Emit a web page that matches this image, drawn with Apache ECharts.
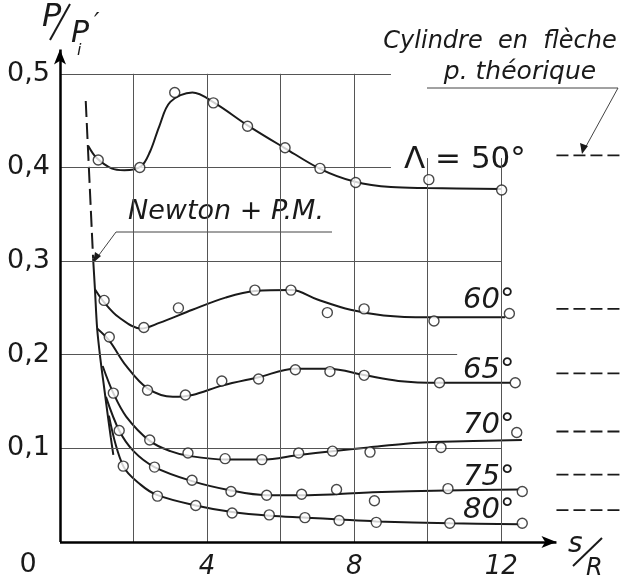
<!DOCTYPE html>
<html>
<head>
<meta charset="utf-8">
<script src="https://cdn.jsdelivr.net/npm/echarts@6/dist/echarts.min.js"></script>
<style>
  html, body { margin: 0; padding: 0; background: #fff; }
  #main { width: 633px; height: 585px; }
</style>
</head>
<body>
<div id="main"></div>
<script>
// grid ticks
const xTicks = [2, 4, 6, 8, 10, 12];
const yTicks = [0.1, 0.2, 0.3, 0.4, 0.5];
const xLabels = [4, 8, 12];

// measured points (open circles)
const pts50 = [[1.04,0.408],[2.17,0.400],[3.12,0.480],[4.17,0.469],[5.10,0.444],[6.12,0.421],[7.07,0.399],[8.04,0.384],[10.03,0.387],[12.01,0.376]];
const pts60 = [[1.20,0.258],[2.28,0.229],[3.22,0.250],[5.30,0.269],[6.28,0.269],[7.27,0.245],[8.27,0.249],[10.17,0.236],[12.22,0.244]];
const pts65 = [[1.34,0.219],[2.38,0.162],[3.41,0.157],[4.40,0.172],[5.40,0.174],[6.40,0.184],[7.34,0.182],[8.27,0.178],[10.32,0.170],[12.38,0.170]];
const pts70 = [[1.45,0.159],[2.44,0.109],[3.48,0.095],[4.49,0.089],[5.49,0.088],[6.49,0.095],[7.41,0.097],[8.43,0.096],[10.36,0.101],[12.42,0.117]];
const pts75 = [[1.61,0.119],[2.57,0.080],[3.59,0.066],[4.65,0.054],[5.62,0.050],[6.57,0.051],[7.52,0.056],[8.55,0.044],[10.55,0.057],[12.57,0.054]];
const pts80 = [[1.72,0.081],[2.65,0.049],[3.69,0.039],[4.68,0.031],[5.69,0.029],[6.66,0.026],[7.59,0.023],[8.60,0.021],[10.60,0.020],[12.57,0.020]];

// faired curves
const fit50 = [[0.77,0.423],[1.0,0.410],[1.4,0.399],[1.75,0.397],[2.2,0.401],[2.45,0.417],[2.7,0.444],[3.0,0.470],[3.6,0.480],[4.2,0.469],[5.1,0.445],[6.1,0.421],[7.1,0.398],[8.0,0.385],[9.0,0.379],[10.0,0.378],[12.0,0.377]];
const fit60 = [[0.95,0.270],[1.2,0.256],[1.6,0.240],[2.2,0.228],[2.7,0.234],[3.6,0.248],[4.5,0.261],[5.3,0.268],[6.3,0.269],[7.0,0.259],[7.9,0.248],[8.8,0.242],[10.0,0.240],[12.1,0.240]];
const fit65 = [[1.01,0.228],[1.34,0.215],[1.8,0.188],[2.38,0.164],[3.07,0.155],[3.6,0.157],[4.4,0.167],[5.4,0.176],[6.4,0.185],[7.3,0.185],[8.3,0.178],[9.2,0.172],[10.3,0.170],[12.24,0.170]];
const fit70 = [[1.16,0.188],[1.45,0.159],[1.8,0.134],[2.44,0.108],[3.0,0.097],[3.5,0.092],[4.5,0.088],[5.5,0.088],[6.5,0.093],[7.4,0.097],[8.4,0.101],[9.4,0.105],[10.4,0.107],[12.56,0.109]];
const fit75 = [[1.25,0.155],[1.61,0.119],[2.0,0.097],[2.57,0.080],[3.59,0.065],[4.65,0.055],[5.6,0.050],[6.6,0.050],[7.5,0.051],[8.5,0.053],[10.5,0.055],[12.5,0.056]];
const fit80 = [[1.33,0.135],[1.72,0.081],[2.2,0.061],[2.65,0.050],[3.69,0.039],[4.68,0.032],[5.7,0.028],[6.7,0.026],[7.6,0.024],[8.6,0.022],[10.6,0.020],[12.5,0.019]];

// Newton + P.M. envelope
const newtonDash = [[0.70,0.471],[0.90,0.303]];
const newtonSolid = [[0.90,0.303],[0.95,0.270],[1.01,0.228],[1.10,0.195],[1.2,0.165],[1.3,0.135],[1.38,0.112],[1.45,0.093]];

// cylindre en flèche, p. théorique
const theory = [0.413, 0.249, 0.180, 0.118, 0.072, 0.034];
const theoryX = [13.5, 15.3];

const ink = '#1a1a1a';
const font = 'DejaVu Sans';

var chart = echarts.init(document.getElementById('main'));

function fitSeries(d) {
  return { type: 'line', data: d, smooth: 0.35, showSymbol: false, silent: true,
    lineStyle: { color: ink, width: 2 }, z: 3 };
}
function ptSeries(d) {
  return { type: 'scatter', data: d, symbol: 'circle', symbolSize: 10, silent: true,
    itemStyle: { color: '#fff', borderColor: ink, borderWidth: 1.4 }, z: 5 };
}

var gridLines = [];
xTicks.forEach(function (x) {
  var top = x >= 10 ? 0.41 : 0.5;
  gridLines.push([{ coord: [x, 0] }, { coord: [x, top] }]);
});
yTicks.forEach(function (y) {
  var right = y >= 0.4 ? 9.0 : (y == 0.2 ? 10.8 : 12);
  gridLines.push([{ coord: [0, y] }, { coord: [right, y] }]);
});

var series = [
  {
    type: 'line', data: fit50, smooth: 0.35, showSymbol: false, silent: true,
    lineStyle: { color: ink, width: 2 }, z: 3,
    markLine: {
      silent: true, symbol: 'none', animation: false,
      lineStyle: { color: '#555', width: 1, type: 'solid' },
      label: { show: false },
      data: gridLines
    }
  },
  fitSeries(fit60), fitSeries(fit65), fitSeries(fit70), fitSeries(fit75), fitSeries(fit80),
  ptSeries(pts50), ptSeries(pts60), ptSeries(pts65), ptSeries(pts70), ptSeries(pts75), ptSeries(pts80),
  { type: 'line', data: newtonDash, showSymbol: false, silent: true,
    lineStyle: { color: ink, width: 2, type: [16, 6] }, z: 3 },
  { type: 'line', data: newtonSolid, smooth: 0.3, showSymbol: false, silent: true,
    lineStyle: { color: ink, width: 2 }, z: 3,
    markLine: {
      silent: true, animation: false, symbol: ['none', 'arrow'], symbolSize: [9, 15],
      lineStyle: { color: '#000', width: 2.5, type: 'solid' },
      label: { show: false },
      data: [
        [{ coord: [0, 0] }, { coord: [13.5, 0] }],
        [{ coord: [0, 0] }, { coord: [0, 0.526] }]
      ]
    }
  }
];

theory.forEach(function (v) {
  series.push({ type: 'line', data: theoryX.map(function (x) { return [x, v]; }),
    showSymbol: false, silent: true,
    lineStyle: { color: ink, width: 1.8, type: [12, 5] }, z: 3 });
});

function txt(x, y, s, size, opt) {
  opt = opt || {};
  return { type: 'text', x: x, y: y, silent: true, style: {
    text: s, fill: ink, font: (opt.italic === false ? '' : 'italic ') + size + 'px "' + font + '"',
    textAlign: opt.align || 'left', textVerticalAlign: 'middle' } };
}

var option = {
  backgroundColor: '#fff',
  animation: false,
  grid: { left: 60, right: 1, top: 27, bottom: 43 },
  xAxis: {
    type: 'value', min: 0, max: 15.5, interval: 2,
    axisLine: { show: false }, axisTick: { show: false }, splitLine: { show: false },
    axisLabel: {
      margin: 12, fontSize: 26, fontStyle: 'italic', color: ink, fontFamily: font,
      formatter: function (v) { return xLabels.indexOf(v) >= 0 ? String(v) : ''; }
    }
  },
  yAxis: {
    type: 'value', min: 0, max: 0.55, interval: 0.1,
    axisLine: { show: false }, axisTick: { show: false }, splitLine: { show: false },
    axisLabel: {
      margin: 10, fontSize: 27, color: ink, fontFamily: font,
      formatter: function (v) {
        var k = Math.round(v * 10);
        return (v > 0.01 && Math.abs(v - k / 10) < 1e-6 && k <= 5) ? '0,' + k : '';
      }
    }
  },
  graphic: [
    txt(28, 565, '0', 27, { italic: false, align: 'center' }),
    // axis titles
    txt(42, 18, 'P', 32),
    { type: 'line', silent: true, shape: { x1: 50, y1: 40, x2: 70, y2: 4 }, style: { stroke: ink, lineWidth: 2 } },
    txt(71, 34, 'P', 30),
    txt(77, 51, 'i', 16),
    txt(94, 24, '\u2032', 24),
    txt(568, 545, 's', 28),
    { type: 'line', silent: true, shape: { x1: 573, y1: 566, x2: 602, y2: 538 }, style: { stroke: ink, lineWidth: 2 } },
    txt(586, 569, 'R', 24),
    // series labels
    txt(404, 160, '\u039b = 50\u00b0', 31, { italic: false }),
    txt(463, 300, '60\u00b0', 29),
    txt(463, 370, '65\u00b0', 29),
    txt(463, 425, '70\u00b0', 29),
    txt(463, 477, '75\u00b0', 29),
    txt(463, 510, '80\u00b0', 29),
    // Newton + P.M. annotation
    txt(226, 212, 'Newton + P.M.', 27, { align: 'center' }),
    { type: 'polyline', silent: true, shape: { points: [[332, 232], [116, 232], [96, 259]] },
      style: { stroke: '#444', lineWidth: 1, fill: null } },
    { type: 'polygon', silent: true, shape: { points: [[93, 263], [95, 252], [101, 256]] },
      style: { fill: ink } },
    // Cylindre en flèche annotation
    txt(500, 42, 'Cylindre  en  fl\u00e8che', 24, { align: 'center' }),
    txt(520, 72, 'p. th\u00e9orique', 25, { align: 'center' }),
    { type: 'polyline', silent: true, shape: { points: [[427, 88], [618, 88], [584, 150]] },
      style: { stroke: '#444', lineWidth: 1, fill: null } },
    { type: 'polygon', silent: true, shape: { points: [[582, 154], [580, 143], [588, 146]] },
      style: { fill: ink } }
  ],
  series: series
};

chart.setOption(option);
</script>
</body>
</html>
